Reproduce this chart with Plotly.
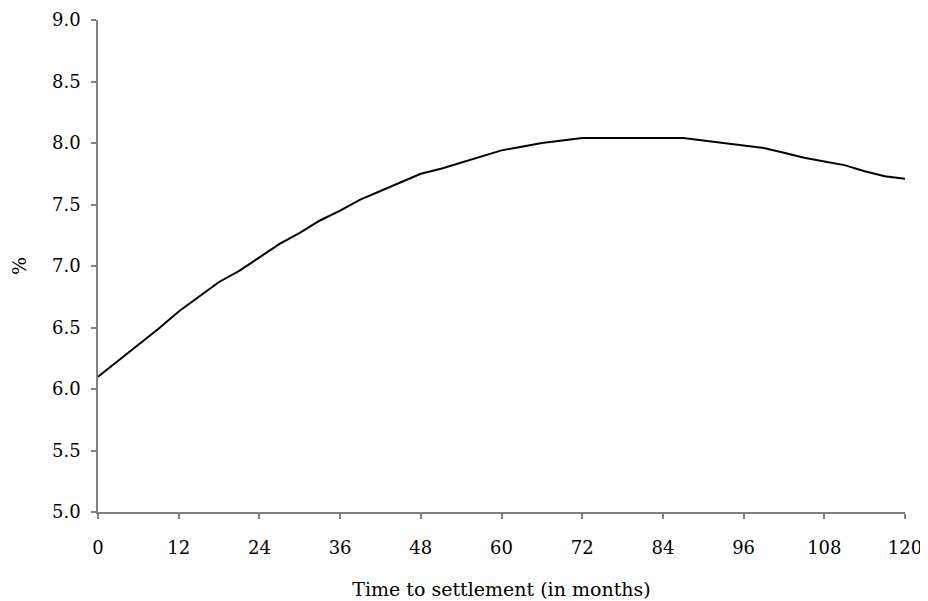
import plotly.graph_objects as go

# months to settlement and the rate (%)
months = [0, 3, 6, 9, 12, 15, 18, 21, 24, 27, 30, 33, 36, 39, 42, 45, 48, 51, 54, 57,
          60, 63, 66, 69, 72, 75, 78, 81, 84, 87, 90, 93, 96, 99, 102, 105, 108, 111,
          114, 117, 120]
rate = [6.10, 6.23, 6.36, 6.49, 6.63, 6.75, 6.87, 6.96, 7.07, 7.18, 7.27, 7.37, 7.45,
        7.54, 7.61, 7.68, 7.75, 7.79, 7.84, 7.89, 7.94, 7.97, 8.00, 8.02, 8.04, 8.04,
        8.04, 8.04, 8.04, 8.04, 8.02, 8.00, 7.98, 7.96, 7.92, 7.88, 7.85, 7.82, 7.77,
        7.73, 7.71]
xticks = list(range(0, 121, 12))

tick_font = dict(family="DejaVu Serif", size=18, color="black")
title_font = dict(family="DejaVu Serif", size=19, color="black")
axis_col = "#808080"

fig = go.Figure(go.Scatter(x=months, y=rate, mode="lines",
                           line=dict(color="black", width=2), showlegend=False))

# page body has an 8px margin, so the figure is 8px smaller and margins shifted
fig.update_layout(width=920, height=593, plot_bgcolor="white", paper_bgcolor="white",
                  margin=dict(l=90, r=23, t=12, b=89), font=tick_font)
fig.update_xaxes(range=[0, 120], tickvals=xticks, showgrid=False, zeroline=False,
                 showline=True, linecolor=axis_col, linewidth=1.5, automargin=False,
                 ticks="outside", ticklen=5, tickcolor=axis_col, tickwidth=1.5,
                 ticklabelstandoff=14, tickfont=tick_font,
                 title=dict(text="Time to settlement (in months)", font=title_font, standoff=25))
fig.update_yaxes(range=[5, 9], dtick=0.5, tickformat=".1f", showgrid=False, zeroline=False,
                 showline=True, linecolor=axis_col, linewidth=1.5, automargin=False,
                 ticks="outside", ticklen=5, tickcolor=axis_col, tickwidth=1.5,
                 ticklabelstandoff=7, tickfont=tick_font,
                 title=dict(text="%", font=title_font, standoff=22))

fig.write_html("out.html")
